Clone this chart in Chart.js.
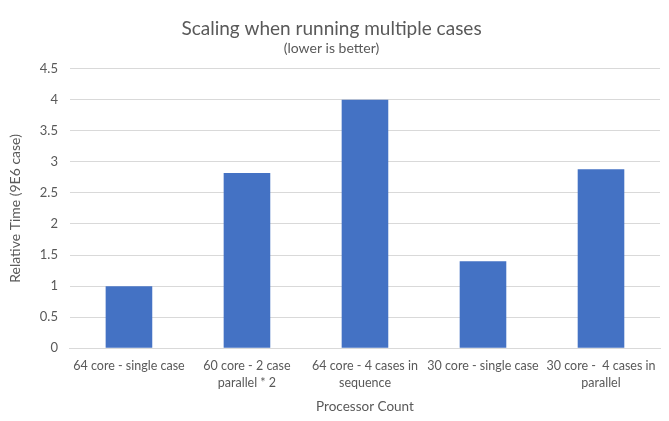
<!DOCTYPE html>
<html>
<head>
<meta charset="utf-8">
<script src="https://cdn.jsdelivr.net/npm/chart.js@4/dist/chart.umd.min.js"></script>
<style>
html,body{margin:0;padding:0;background:#fff;}
#wrap{width:669px;height:421px;position:relative;}
</style>
</head>
<body>
<div id="wrap"><canvas id="c" width="669" height="421"></canvas></div>
<script>
const categories = [
  ["64 core - single case"],
  ["60 core - 2 case", "parallel * 2"],
  ["64 core - 4 cases in", "sequence"],
  ["30 core - single case"],
  ["30 core -  4 cases in", "parallel"]
];
const relativeTime = [1, 2.82, 4, 1.4, 2.88];
const titleText = "Scaling when running multiple cases";
const subtitleText = "(lower is better)";
const yTitle = "Relative Time (9E6 case)";
const xTitle = "Processor Count";

const fontFamily = "Lato, 'Open Sans', 'Liberation Sans', sans-serif";
const grey = "#595959";

new Chart(document.getElementById('c'), {
  type: 'bar',
  data: {
    labels: categories,
    datasets: [{
      data: relativeTime,
      backgroundColor: '#4472C4',
      borderWidth: 0,
      barPercentage: 0.395,
      categoryPercentage: 1.0
    }]
  },
  options: {
    responsive: false,
    animation: false,
    layout: { padding: { left: 3, right: 9, top: 8, bottom: 6 } },
    plugins: {
      legend: { display: false },
      tooltip: { enabled: false },
      title: {
        display: true,
        text: titleText,
        color: grey,
        font: { family: fontFamily, size: 19, weight: 'normal' },
        padding: { top: 9, bottom: 0 }
      },
      subtitle: {
        display: true,
        text: subtitleText,
        color: grey,
        font: { family: fontFamily, size: 14, weight: 'normal' },
        padding: { top: 0, bottom: 12 }
      }
    },
    scales: {
      x: {
        grid: { display: false, drawTicks: false },
        border: { display: true, color: '#d9d9d9' },
        ticks: {
          color: grey,
          font: { family: fontFamily, size: 12.5, lineHeight: 1.3 },
          maxRotation: 0,
          autoSkip: false,
          padding: 10
        },
        title: {
          display: true,
          text: xTitle,
          color: grey,
          font: { family: fontFamily, size: 13.5 },
          padding: { top: -2, bottom: 0 }
        }
      },
      y: {
        min: 0,
        max: 4.5,
        ticks: {
          stepSize: 0.5,
          color: grey,
          font: { family: fontFamily, size: 13 },
          padding: 12,
          callback: (v) => String(v)
        },
        grid: { color: '#d9d9d9', drawTicks: false },
        border: { display: false },
        title: {
          display: true,
          text: yTitle,
          color: grey,
          font: { family: fontFamily, size: 14 },
          padding: { bottom: 4 }
        }
      }
    }
  }
});
</script>
</body>
</html>
